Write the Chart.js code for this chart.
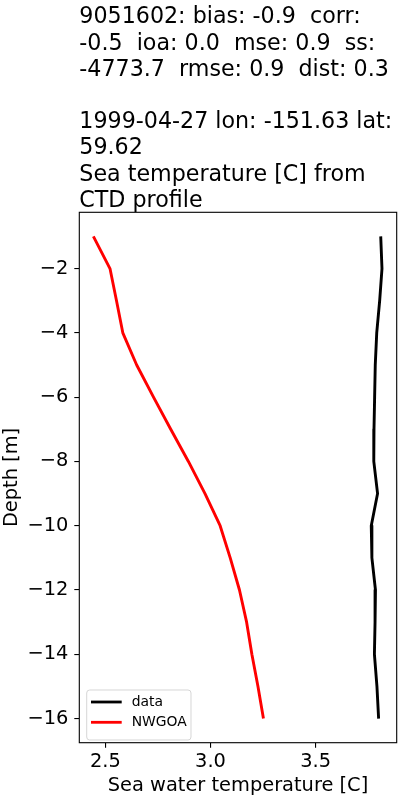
<!DOCTYPE html>
<html lang="en">
<head>
    <meta charset="UTF-8" />
    <title>CTD profile 9051602</title>
    <script src="https://cdn.jsdelivr.net/npm/chart.js"></script>
    <style>
        html, body { margin: 0; padding: 0; background: #fff; }
        canvas { display: block; }
    </style>
</head>
<body>
    <canvas id="profileChart" width="400" height="800"></canvas>

    <script>
        const titleLines = [
            '9051602: bias: -0.9  corr:',
            '-0.5  ioa: 0.0  mse: 0.9  ss:',
            '-4773.7  rmse: 0.9  dist: 0.3',
            '',
            '1999-04-27 lon: -151.63 lat:',
            '59.62',
            'Sea temperature [C] from',
            'CTD profile'
        ];

        const depths = [-1, -2, -3, -4, -5, -6, -7, -8, -9, -10, -11, -12, -13, -14, -15, -16];
        const dataTemps = [3.810, 3.816, 3.805, 3.791, 3.784, 3.781, 3.778, 3.777, 3.795, 3.765, 3.768, 3.785, 3.783, 3.780, 3.792, 3.800];
        const modelTemps = [2.443, 2.522, 2.553, 2.583, 2.649, 2.729, 2.811, 2.895, 2.974, 3.046, 3.094, 3.138, 3.172, 3.197, 3.226, 3.252];

        const xTicks = [2.5, 3.0, 3.5];
        const yTicks = [-2, -4, -6, -8, -10, -12, -14, -16];

        const FONT = "'DejaVu Sans', sans-serif";

        function toPoints(temps) {
            return temps.map((t, i) => ({ x: t, y: depths[i] }));
        }

        // matplotlib-like title block, left aligned with the axes
        const titlePlugin = {
            id: 'titleBlock',
            afterDraw(chart) {
                const ctx = chart.ctx;
                ctx.save();
                ctx.fillStyle = '#000';
                ctx.font = '22.2px ' + FONT;
                ctx.textBaseline = 'alphabetic';
                ctx.textAlign = 'left';
                titleLines.forEach((line, i) => {
                    ctx.fillText(line, chart.chartArea.left, 23.3 + i * 26.2);
                });
                ctx.restore();
            }
        };

        // full box frame + legend in lower left
        const framePlugin = {
            id: 'frameBox',
            afterDatasetsDraw(chart) {
                const { left, top, right, bottom } = chart.chartArea;
                const ctx = chart.ctx;
                ctx.save();
                ctx.strokeStyle = '#000';
                ctx.lineWidth = 1.1;
                ctx.strokeRect(left, top, right - left, bottom - top);

                // legend
                const bx = left + 7.4, by = bottom - 52.7, bw = 104.3, bh = 50;
                ctx.fillStyle = 'rgba(255,255,255,0.8)';
                ctx.strokeStyle = 'rgba(204,204,204,0.8)';
                ctx.lineWidth = 1;
                ctx.beginPath();
                ctx.roundRect(bx, by, bw, bh, 3);
                ctx.fill();
                ctx.stroke();

                ctx.font = '13.9px ' + FONT;
                ctx.textBaseline = 'middle';
                ctx.textAlign = 'left';
                chart.data.datasets.forEach((ds, i) => {
                    const y = by + 12 + i * 20.3;
                    ctx.strokeStyle = ds.borderColor;
                    ctx.lineWidth = 2.8;
                    ctx.beginPath();
                    ctx.moveTo(bx + 4.3, y);
                    ctx.lineTo(bx + 35, y);
                    ctx.stroke();
                    ctx.fillStyle = '#000';
                    ctx.fillText(ds.label, bx + 45, y);
                });
                ctx.restore();
            }
        };

        const ctx = document.getElementById('profileChart').getContext('2d');
        new Chart(ctx, {
            type: 'scatter',
            data: {
                datasets: [
                    {
                        label: 'data',
                        data: toPoints(dataTemps),
                        showLine: true,
                        borderColor: '#000000',
                        borderWidth: 2.9,
                        borderJoinStyle: 'round',
                        borderCapStyle: 'butt',
                        pointRadius: 0,
                        tension: 0
                    },
                    {
                        label: 'NWGOA',
                        data: toPoints(modelTemps),
                        showLine: true,
                        borderColor: '#ff0000',
                        borderWidth: 2.9,
                        borderJoinStyle: 'round',
                        borderCapStyle: 'butt',
                        pointRadius: 0,
                        tension: 0
                    }
                ]
            },
            options: {
                responsive: false,
                animation: false,
                layout: { padding: { top: 212.3, right: 3.3, left: 0, bottom: 0 } },
                plugins: {
                    legend: { display: false },
                    tooltip: { enabled: false },
                    title: { display: false }
                },
                scales: {
                    x: {
                        type: 'linear',
                        min: 2.376,
                        max: 3.886,
                        afterBuildTicks: (scale) => { scale.ticks = xTicks.map(v => ({ value: v })); },
                        afterFit: (scale) => { scale.height = 57.3; },
                        grid: { display: true, drawOnChartArea: false, drawTicks: true, tickLength: 5, color: '#000', lineWidth: 1.1 },
                        border: { display: false },
                        ticks: {
                            color: '#000',
                            font: { family: FONT, size: 19.4 },
                            padding: 3,
                            maxRotation: 0,
                            callback: (v) => Number(v).toFixed(1)
                        },
                        title: {
                            display: true,
                            text: 'Sea water temperature [C]',
                            color: '#000',
                            font: { family: FONT, size: 19.4 },
                            padding: { top: 0, bottom: 2 }
                        }
                    },
                    y: {
                        type: 'linear',
                        min: -16.75,
                        max: -0.25,
                        afterBuildTicks: (scale) => { scale.ticks = yTicks.map(v => ({ value: v })); },
                        afterFit: (scale) => { scale.width = 79.3; },
                        grid: { display: true, drawOnChartArea: false, drawTicks: true, tickLength: 5, color: '#000', lineWidth: 1.1 },
                        border: { display: false },
                        ticks: {
                            color: '#000',
                            font: { family: FONT, size: 19.4 },
                            padding: 6,
                            callback: (v) => (v < 0 ? '\u2212' : '') + Math.abs(v)
                        },
                        title: {
                            display: true,
                            text: 'Depth [m]',
                            color: '#000',
                            font: { family: FONT, size: 19.4 },
                            padding: { top: 0, bottom: 0 }
                        }
                    }
                }
            },
            plugins: [titlePlugin, framePlugin]
        });
    </script>
</body>
</html>
